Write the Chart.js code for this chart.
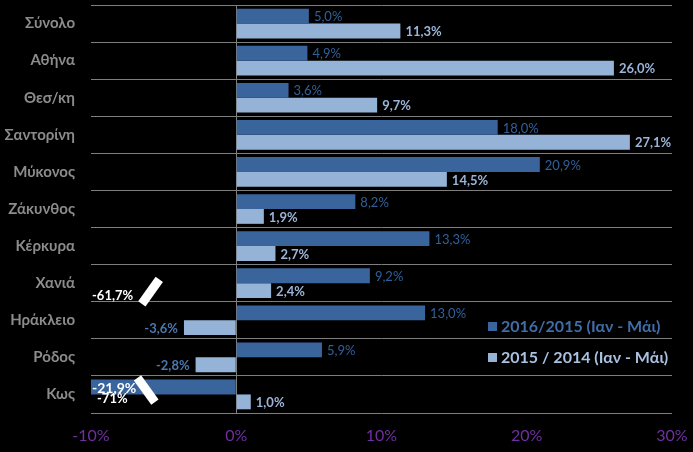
<!DOCTYPE html>
<html>
<head>
<meta charset="utf-8">
<script src="https://cdn.jsdelivr.net/npm/chart.js@4.4.1/dist/chart.umd.min.js"></script>
<style>
  html, body { margin: 0; padding: 0; background: #000; }
  #wrap { width: 693px; height: 452px; }
</style>
</head>
<body>
<div id="wrap"><canvas id="grafica"></canvas></div>
<script>
// categorias y series
const categorias = ['Σύνολο', 'Αθήνα', 'Θεσ/κη', 'Σαντορίνη', 'Μύκονος', 'Ζάκυνθος', 'Κέρκυρα', 'Χανιά', 'Ηράκλειο', 'Ρόδος', 'Κως'];
const serie2016 = [5.0, 4.9, 3.6, 18.0, 20.9, 8.2, 13.3, 9.2, 13.0, 5.9, -21.9];
const serie2015 = [11.3, 26.0, 9.7, 27.1, 14.5, 1.9, 2.7, 2.4, -3.6, -2.8, 1.0];
const etiquetas = ['2016/2015 (Ιαν - Μάι)', '2015 / 2014 (Ιαν - Μάι)'];
const ticksX = [-10, 0, 10, 20, 30];
// notas con valores fuera de escala (texto suelto en el original)
const notas = [
    { cat: 'Χανιά', serie: 1, texto: '-61,7%' },
    { cat: 'Κως', serie: 0, texto: '-71%' }
];
// marcas de corte del eje
const cortes = [
    { cat: 'Χανιά', serie: 1, valor: -5.9, dir: 1 },
    { cat: 'Κως', serie: 0, valor: -6.2, dir: -1 }
];

const AZUL = '#3A659C';
const CELESTE = '#95B3D7';
const FUENTE = "Lato, 'Open Sans', sans-serif";

function fmt(v) {
    return v.toFixed(1).replace('.', ',') + '%';
}

const pluginEtiquetas = {
    id: 'etiquetas',
    afterDatasetsDraw(chart) {
        const ctx = chart.ctx;
        const xs = chart.scales.x;
        const area = chart.chartArea;
        ctx.save();
        ctx.textBaseline = 'middle';

        chart.data.datasets.forEach((ds, di) => {
            const meta = chart.getDatasetMeta(di);
            meta.data.forEach((bar, i) => {
                const v = ds.data[i];
                const y = bar.y + 1;
                if (di === 0) {
                    ctx.font = '13px ' + FUENTE;
                    ctx.fillStyle = '#30609A';
                } else {
                    ctx.font = 'bold 13px ' + FUENTE;
                    ctx.fillStyle = '#9BB5D8';
                }
                if (v < xs.min) {
                    // barra recortada: etiqueta blanca dentro
                    ctx.fillStyle = '#fff';
                    ctx.font = 'bold 14px ' + FUENTE;
                    ctx.textAlign = 'left';
                    ctx.fillText(fmt(v), area.left + 1, y);
                } else if (v < 0) {
                    ctx.fillStyle = '#4A78B0';
                    ctx.textAlign = 'right';
                    ctx.fillText(fmt(v), bar.x - 6, y);
                } else {
                    ctx.textAlign = 'left';
                    ctx.fillText(fmt(v), bar.x + 5, y);
                }
            });
        });

        // notas
        ctx.fillStyle = '#fff';
        ctx.font = 'bold 13px ' + FUENTE;
        ctx.textAlign = 'left';
        notas.forEach(n => {
            const i = categorias.indexOf(n.cat);
            const bar = chart.getDatasetMeta(n.serie).data[i];
            const dx = n.serie === 0 ? 6 : 1;
            ctx.fillText(n.texto, area.left + dx, bar.y + (n.serie === 0 ? 12 : 5));
        });

        // cortes
        ctx.fillStyle = '#fff';
        cortes.forEach(c => {
            const i = categorias.indexOf(c.cat);
            const bar = chart.getDatasetMeta(c.serie).data[i];
            const cx = xs.getPixelForValue(c.valor);
            const cy = bar.y + (c.serie === 0 ? 3 : 1);
            ctx.save();
            ctx.translate(cx, cy);
            ctx.rotate(c.dir > 0 ? -0.95 : 0.95);
            ctx.fillRect(-15, -4.5, 30, 9);
            ctx.restore();
        });

        // leyenda
        const colores = [AZUL, CELESTE];
        const texto = ['#3F6EA8', '#A9C1E3'];
        ctx.font = 'bold 16px ' + FUENTE;
        ctx.textAlign = 'left';
        etiquetas.forEach((et, k) => {
            const ly = 327 + k * 31;
            ctx.fillStyle = colores[k];
            ctx.fillRect(488, ly - 5, 9, 9);
            ctx.fillStyle = texto[k];
            ctx.fillText(et, 501, ly);
        });
        ctx.restore();
    }
};

new Chart(document.getElementById('grafica'), {
    type: 'bar',
    data: {
        labels: categorias,
        datasets: [
            { label: etiquetas[0], data: serie2016, backgroundColor: AZUL },
            { label: etiquetas[1], data: serie2015, backgroundColor: CELESTE }
        ]
    },
    options: {
        indexAxis: 'y',
        responsive: true,
        maintainAspectRatio: false,
        animation: false,
        layout: { padding: { top: 5, right: 21, left: 0, bottom: 0 } },
        datasets: { bar: { categoryPercentage: 0.8, barPercentage: 1.0 } },
        plugins: { legend: { display: false }, tooltip: { enabled: false } },
        scales: {
            x: {
                min: -10,
                max: 30,
                afterBuildTicks: s => { s.ticks = ticksX.map(v => ({ value: v })); },
                afterFit: s => { s.height = 39; s.paddingLeft = 0; s.paddingRight = 0; },
                border: { display: false },
                grid: {
                    drawTicks: false,
                    color: c => (c.tick && c.tick.value === 0) ? '#7F7F7F' : 'rgba(0,0,0,0)'
                },
                ticks: {
                    padding: 13,
                    maxRotation: 0,
                    color: '#7030A0',
                    font: { family: FUENTE, size: 16 },
                    callback: v => v + '%'
                }
            },
            y: {
                afterFit: s => { s.width = 91; s.paddingTop = 0; s.paddingBottom = 0; },
                border: { display: false },
                grid: { drawTicks: false, color: '#7F7F7F', offset: true },
                ticks: {
                    padding: 16,
                    color: '#8C8C8C',
                    font: { family: FUENTE, size: 15, weight: 'bold' }
                }
            }
        }
    },
    plugins: [pluginEtiquetas]
});
</script>
</body>
</html>
